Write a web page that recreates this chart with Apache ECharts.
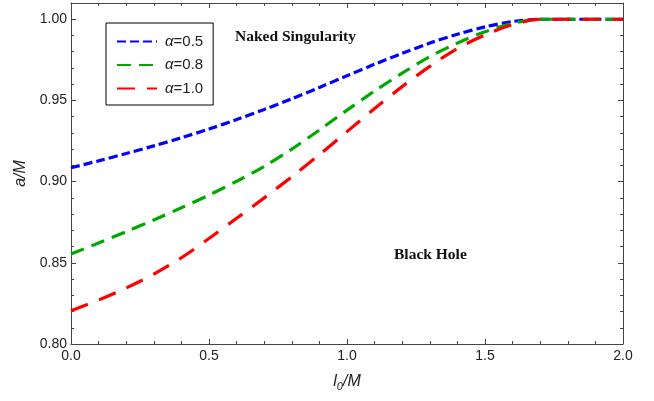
<!DOCTYPE html>
<html>
<head>
<meta charset="utf-8">
<script src="https://cdn.jsdelivr.net/npm/echarts@6/dist/echarts.min.js"></script>
<style>html,body{margin:0;padding:0;background:#fff}#c{width:654px;height:401px}</style>
</head>
<body>
<div id="c"></div>
<script>
const lValues = [0,0.1,0.2,0.3,0.4,0.5,0.6,0.7,0.8,0.9,1.0,1.1,1.2,1.3,1.4,1.5,1.6,1.7,1.8,1.9,2.0];
const alpha05 = [0.9085,0.9128,0.9173,0.9220,0.9270,0.9324,0.9382,0.9444,0.9510,0.9580,0.9652,0.9723,0.9790,0.9853,0.9908,0.9953,0.9986,1.0,1.0,1.0,1.0];
const alpha08 = [0.8554,0.8622,0.8692,0.8764,0.8839,0.8917,0.9002,0.9094,0.9200,0.9318,0.9440,0.9558,0.9668,0.9770,0.9853,0.9923,0.9974,1.0,1.0,1.0,1.0];
const alpha10 = [0.8205,0.8271,0.8345,0.8430,0.8531,0.8650,0.8774,0.8900,0.9030,0.9166,0.9308,0.9450,0.9585,0.9710,0.9820,0.9903,0.9967,1.0,1.0,1.0,1.0];
const seriesNames = ['α=0.5','α=0.8','α=1.0'];
const yTicks = ['0.80','0.85','0.90','0.95','1.00'];
const xTicks = ['0.0','0.5','1.0','1.5','2.0'];

const pairs = ys => lValues.map((x,i)=>[x, ys[i]]);
const chart = echarts.init(document.getElementById('c'));
const axisCol = '#444';
const tickFont = {fontFamily:'Liberation Sans', fontSize:14, color:'#222'};
function xAxis(pos, show){
  return {type:'value', position:pos, min:0, max:2, interval:0.5,
    axisLine:{show:true, onZero:false, lineStyle:{color:axisCol, width:1}},
    axisTick:{show:true, inside:true, length:5, lineStyle:{color:axisCol}},
    minorTick:{show:true, splitNumber:5, length:3, lineStyle:{color:axisCol}},
    splitLine:{show:false},
    axisLabel:Object.assign({show:show, margin:5, formatter:v=>{const i=[0,0.5,1,1.5,2].indexOf(+v.toFixed(2));return i>=0?xTicks[i]:'';}}, tickFont),
  };
}
function yAxis(pos, show){
  return {type:'value', position:pos, min:0.8, max:1.01, interval:0.05,
    axisLine:{show:true, onZero:false, lineStyle:{color:axisCol, width:1}},
    axisTick:{show:true, inside:true, length:5, lineStyle:{color:axisCol}},
    minorTick:{show:true, splitNumber:5, length:3, lineStyle:{color:axisCol}},
    splitLine:{show:false},
    axisLabel:Object.assign({show:show, margin:4, showMaxLabel:false, formatter:v=>{const i=Math.round((v-0.8)/0.05);return Math.abs(v-(0.8+i*0.05))<1e-6&&i<yTicks.length?yTicks[i]:'';}}, tickFont),
  };
}
const xa0 = xAxis('bottom', true);
xa0.name = '{i|l}{s|0}{i|/M}';
xa0.nameLocation = 'middle';
xa0.nameGap = 27;
xa0.nameTextStyle = {rich:{i:{fontFamily:'Liberation Sans', fontStyle:'italic', fontSize:16, color:'#222'}, s:{fontFamily:'Liberation Sans', fontStyle:'italic', fontSize:11, color:'#222', verticalAlign:'bottom', padding:[10,0,0,0]}}};
const ya0 = yAxis('left', true);
ya0.name = 'a/M';
ya0.nameLocation = 'middle';
ya0.nameGap = 29;
ya0.nameRotate = 90;
ya0.nameTextStyle = {fontFamily:'Liberation Sans', fontStyle:'italic', fontSize:16, color:'#222'};

const styles = [
  {color:'#0000ff', dash:[9,4]},
  {color:'#00a800', dash:[14,8]},
  {color:'#ff0000', dash:[18,12]},
];
const dataSets = [alpha05, alpha08, alpha10];

chart.setOption({
  animation:false,
  grid:{left:71, right:31, top:3, bottom:57},
  xAxis:[xa0, xAxis('top', false)],
  yAxis:[ya0, yAxis('right', false)],
  legend:{
    orient:'vertical', left:106, top:23,
    padding:[11,10,9,10],
    itemGap:8.5, itemWidth:40, itemHeight:14,
    borderColor:'#000', borderWidth:1,
    itemStyle:{opacity:0},
    data:seriesNames,
    formatter:n=>'{a|α}{b|'+n.slice(1)+'}',
    textStyle:{rich:{
      a:{fontFamily:'Liberation Sans', fontStyle:'italic', fontSize:15, color:'#222', padding:[0,0,0,3]},
      b:{fontFamily:'Liberation Sans', fontSize:15, color:'#222'}
    }}
  },
  graphic:[
    {type:'text', left:235, top:29, style:{text:'Naked Singularity', font:'bold 15.5px "Liberation Serif"', fill:'#111'}},
    {type:'text', left:394, top:247, style:{text:'Black Hole', font:'bold 15.5px "Liberation Serif"', fill:'#111'}}
  ],
  series: dataSets.map((d,i)=>({
    name:seriesNames[i], type:'line', xAxisIndex:0, yAxisIndex:0,
    data:pairs(d), smooth:0.3, symbol:'none',
    lineStyle:{color:styles[i].color, width:3.2, type:styles[i].dash},
    itemStyle:{color:styles[i].color},
    z: 2+i
  }))
});
</script>
</body>
</html>
